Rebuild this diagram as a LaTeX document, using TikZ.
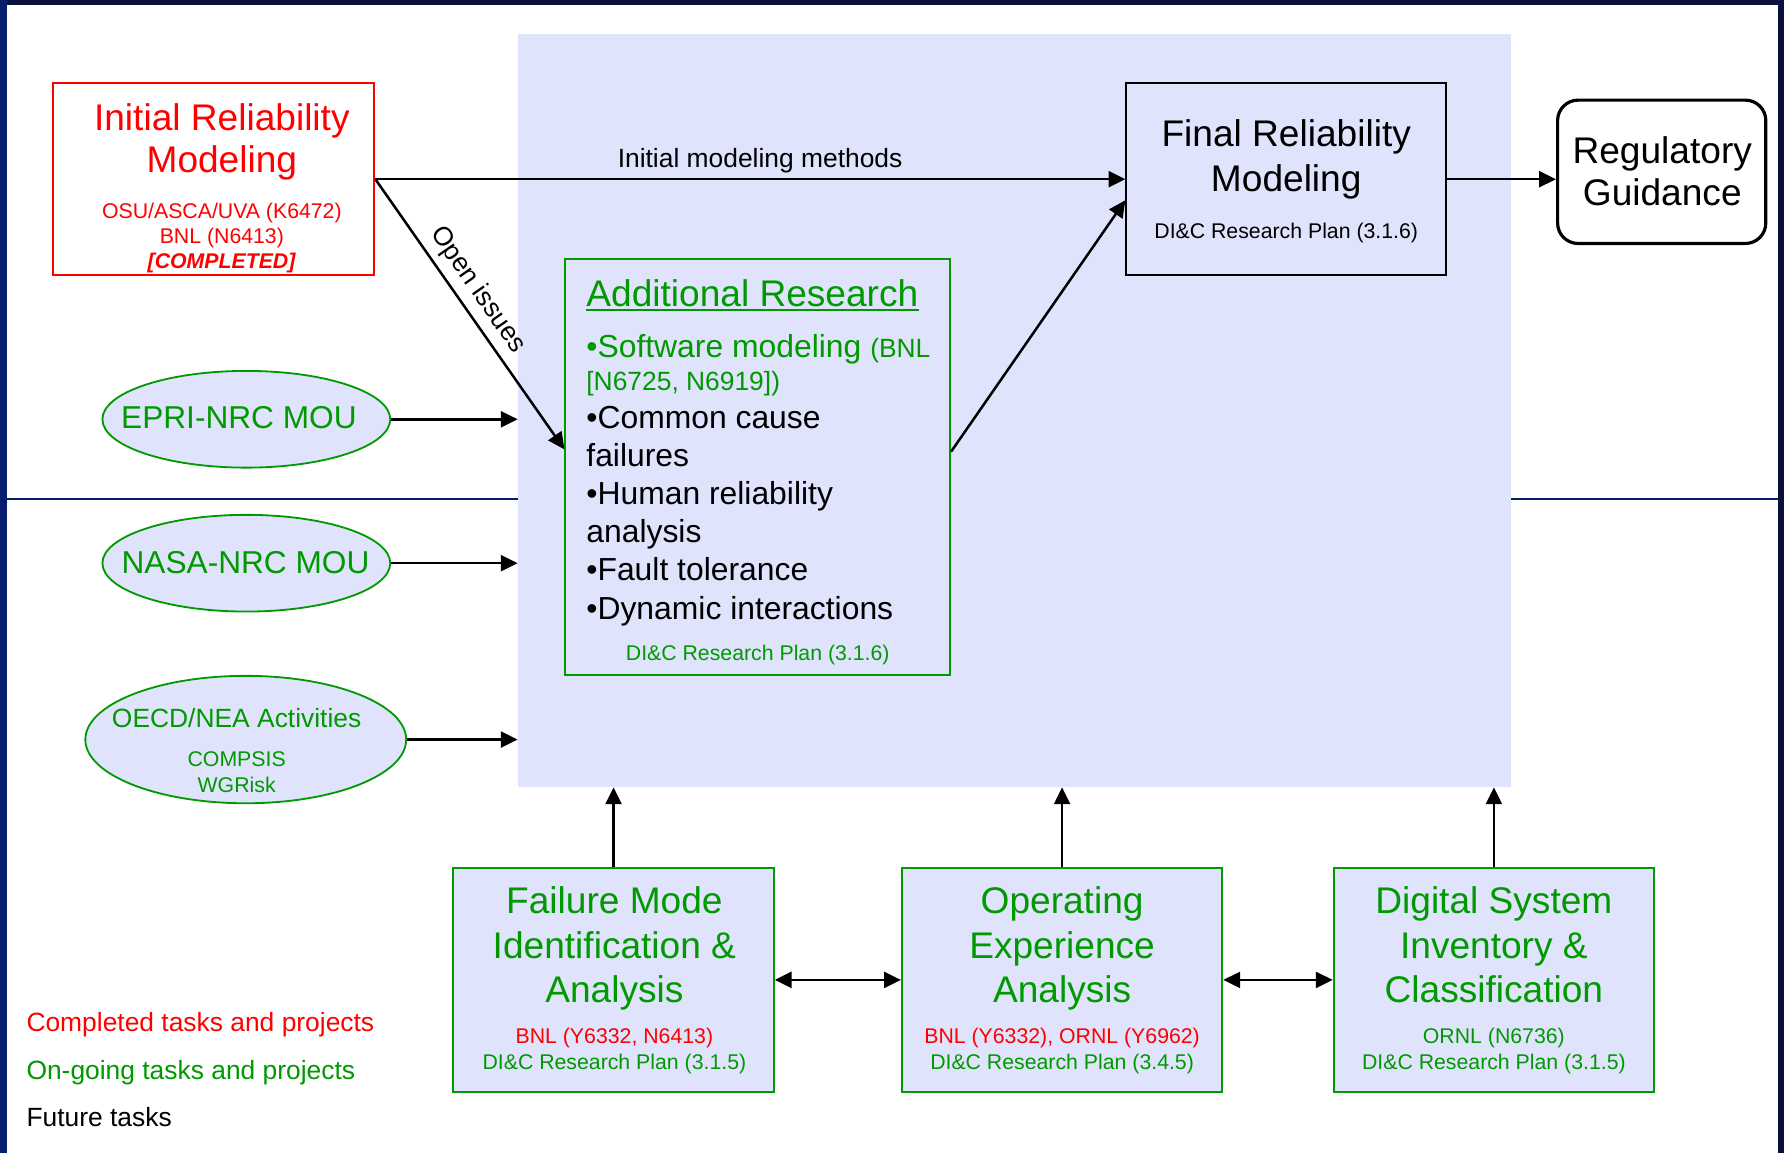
\documentclass[tikz,border=0pt]{standalone}
\usepackage{fontspec}
\setmainfont{Liberation Sans}
\usetikzlibrary{arrows.meta,shapes.geometric,calc}
\definecolor{pgreen}{RGB}{0,153,0}
\definecolor{pred}{RGB}{255,0,0}
\definecolor{shadecol}{RGB}{223,228,252}
\definecolor{navyA}{RGB}{8,16,60}
\definecolor{navyB}{RGB}{6,30,110}
\tikzset{
  bigtxt/.style={font=\fontsize{16.3}{19.5}\selectfont, align=center, inner sep=0pt},
  itemtxt/.style={font=\fontsize{14}{16.75}\selectfont, align=left, inner sep=0pt},
  midtxt/.style={font=\fontsize{11.6}{14}\selectfont, inner sep=0pt},
  smalltxt/.style={font=\fontsize{9.35}{11.2}\selectfont, align=center, inner sep=0pt},
  arr/.style={-{Triangle[length=7.4pt,width=7pt]}, line width=1.1pt},
  darr/.style={{Triangle[length=7.4pt,width=7pt]}-{Triangle[length=7.4pt,width=7pt]}, line width=1.1pt},
  gbox/.style={rectangle, draw=pgreen, line width=0.9pt, fill=shadecol, inner sep=0pt, minimum width=140.75pt, minimum height=98.25pt},
  gell/.style={ellipse, draw=pgreen, line width=0.8pt, fill=shadecol, inner sep=0pt},
}
\begin{document}
\begin{tikzpicture}[x=0.5pt,y=-0.5pt]
\useasboundingbox (0,0) rectangle (1568,1013);
\fill[white] (0,0) rectangle (1568,1013);
% frame
\fill[navyA] (0,0) rectangle (1568,4);
\fill[navyB] (0,0) rectangle (6,1013);
\fill[navyA] (1563,0) rectangle (1568,1013);
\draw[navyB, line width=0.5pt] (6,438.6) -- (1563,438.6);
% shaded region
\node[rectangle, fill=shadecol, inner sep=0pt, outer sep=0pt, minimum width=436.5pt, minimum height=331pt] (region) at (891.5,361) {};

% Initial Reliability Modeling
\node[rectangle, draw=pred, fill=white, line width=0.9pt, inner sep=0pt, minimum width=141pt, minimum height=84.5pt] (irm) at (188,157.5) {};
\node[bigtxt, text=pred, anchor=base, font=\fontsize{16.3}{18.75}\selectfont] (irm-t) at (195,152) {Initial Reliability\\Modeling};
\node[smalltxt, text=pred, anchor=base, font=\fontsize{9.35}{11}\selectfont] (irm-s) at (195,236) {OSU/ASCA/UVA (K6472)\\BNL (N6413)\\\textbf{\textit{[COMPLETED]}}};

% Final Reliability Modeling
\node[rectangle, draw=black, line width=0.9pt, inner sep=0pt, minimum width=140.5pt, minimum height=84.5pt] (frm) at (1130.5,157.5) {};
\node[bigtxt, anchor=base, font=\fontsize{16.3}{19.8}\selectfont] (frm-t) at (1130.5,168.7) {Final Reliability\\Modeling};
\node[smalltxt, anchor=base] (frm-s) at (1130.5,210) {DI\&C Research Plan (3.1.6)};

% Regulatory Guidance
\node[rectangle, rounded corners=9pt, draw=black, fill=white, line width=1.4pt, inner sep=0pt, minimum width=91.5pt, minimum height=63pt] (reg) at (1460.5,151) {};
\node[bigtxt, anchor=base, font=\fontsize{16.3}{18.6}\selectfont] (reg-t) at (1461,181) {Regulatory\\Guidance};

% Additional Research
\node[rectangle, draw=pgreen, line width=0.9pt, inner sep=0pt, minimum width=169pt, minimum height=182.5pt] (ar) at (666,410.5) {};
\node[bigtxt, text=pgreen, anchor=base west] (ar-h) at (515,269.5) {Additional Research};
\draw[pgreen, line width=0.9pt] ([yshift=-1.6pt]ar-h.base west) -- ([yshift=-1.6pt]ar-h.base east);
\node[itemtxt, text=pgreen, anchor=base west] (ar-sw) at (515,314) {\textbullet Software modeling {\fontsize{11.6}{14}\selectfont(BNL}};
\node[midtxt, text=pgreen, anchor=base west] (ar-sw2) at (515,343) {[N6725, N6919])};
\node[itemtxt, anchor=base west] (ar-list) at (515,544.1) {\textbullet Common cause\\failures\\\textbullet Human reliability\\analysis\\\textbullet Fault tolerance\\\textbullet Dynamic interactions};
\node[smalltxt, text=pgreen, anchor=base] (ar-s) at (666,580.7) {DI\&C Research Plan (3.1.6)};

% ellipses
\node[gell, minimum width=126.5pt, minimum height=42.5pt] (epri) at (216.5,368.5) {};
\node[midtxt, text=pgreen, anchor=base, font=\fontsize{13.9}{16}\selectfont] (epri-t) at (210,376.5) {EPRI-NRC MOU};
\node[gell, minimum width=126.5pt, minimum height=42.5pt] (nasa) at (216.5,495) {};
\node[midtxt, text=pgreen, anchor=base, font=\fontsize{13.9}{16}\selectfont] (nasa-t) at (215.8,504) {NASA-NRC MOU};
\node[gell, minimum width=141pt, minimum height=56pt] (oecd) at (216,650) {};
\node[midtxt, text=pgreen, anchor=base] (oecd-t) at (208,639) {OECD/NEA Activities};
\node[smalltxt, text=pgreen, anchor=base, font=\fontsize{9.35}{11.45}\selectfont] (oecd-s) at (208,696.7) {COMPSIS\\WGRisk};

% bottom boxes
\node[gbox] (fma) at (539.25,861.25) {};
\node[bigtxt, text=pgreen, anchor=base] (fma-t) at (540,881) {Failure Mode\\Identification \&\\Analysis};
\node[smalltxt, text=pgreen, anchor=base] (fma-s) at (540,939.9) {{\color{pred}BNL (Y6332, N6413)}\\DI\&C Research Plan (3.1.5)};

\node[gbox] (oea) at (933.5,861.25) {};
\node[bigtxt, text=pgreen, anchor=base] (oea-t) at (933.5,881) {Operating\\Experience\\Analysis};
\node[smalltxt, text=pgreen, anchor=base] (oea-s) at (933.5,939.9) {{\color{pred}BNL (Y6332), ORNL (Y6962)}\\DI\&C Research Plan (3.4.5)};

\node[gbox] (dsi) at (1313,861.25) {};
\node[bigtxt, text=pgreen, anchor=base] (dsi-t) at (1313,881) {Digital System\\Inventory \&\\Classification};
\node[smalltxt, text=pgreen, anchor=base] (dsi-s) at (1313,939.9) {ORNL (N6736)\\DI\&C Research Plan (3.1.5)};

% legend
\node[midtxt, text=pred, anchor=base west] (leg1) at (22.9,906.7) {Completed tasks and projects};
\node[midtxt, text=pgreen, anchor=base west] (leg2) at (22.9,948.6) {On-going tasks and projects};
\node[midtxt, anchor=base west] (leg3) at (22.9,990.2) {Future tasks};

% connectors
\draw[arr] (irm.east) -- node[pos=0.513, above=2pt, midtxt] (lbl1) {Initial modeling methods} (frm.west);
\draw[arr] (irm.east) -- node[pos=0.453, above=3pt, sloped, midtxt] (lbl2) {Open issues} ([yshift=7.75pt]ar.west);
\draw[arr] ([yshift=6.75pt]ar.east) -- ([yshift=-9.25pt]frm.west);
\draw[arr] (frm.east) -- (frm.east -| reg.west);
\draw[arr] (epri.east) -- (epri.east -| region.west);
\draw[arr] (nasa.east) -- (nasa.east -| region.west);
\draw[arr] (oecd.east) -- (oecd.east -| region.west);
\draw[arr] (fma.north) -- (fma.north |- region.south);
\draw[arr] (oea.north) -- (oea.north |- region.south);
\draw[arr] (dsi.north) -- (dsi.north |- region.south);
\draw[darr] (fma.east) -- (oea.west);
\draw[darr] (oea.east) -- (dsi.west);
\end{tikzpicture}
\end{document}
